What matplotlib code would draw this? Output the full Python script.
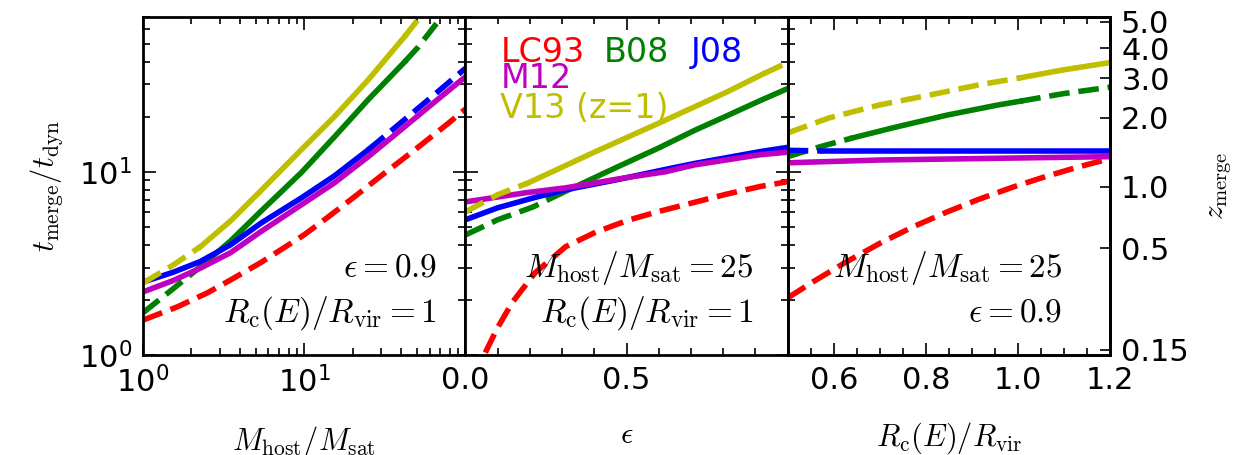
import numpy as np
import matplotlib
matplotlib.use("Agg")
import matplotlib.pyplot as plt
from matplotlib.ticker import MultipleLocator, NullLocator, NullFormatter

plt.rcParams['mathtext.fontset'] = 'cm'
plt.rcParams['font.family'] = ['DejaVu Sans']

# ---- data ----
# panel 1: t_merge/t_dyn vs Mhost/Msat (eps=0.9, Rc/Rvir=1)
mr_lc93 = [1, 1.63, 2.5, 3.5, 5.4, 10, 14.1, 20.5, 31.6, 48.7, 79, 100]
t1_lc93 = [1.55, 1.83, 2.18, 2.57, 3.2, 4.53, 5.67, 7.3, 9.85, 13.2, 18.5, 22]
mr_b08 = [1, 1.54, 2.27, 3.5, 5.4, 9.6, 15.4, 25, 42, 51, 69]
t1_b08 = [1.70, 2.3, 3.03, 4.2, 6.1, 9.9, 15.5, 24.8, 39.8, 48, 67.6]
mr_j08 = [1, 1.54, 2.27, 3.5, 5.4, 9.6, 15.4, 25, 40, 65, 100]
t1_j08 = [2.5, 2.83, 3.24, 4.0, 5.25, 7.2, 9.5, 13.2, 18.6, 26.6, 36.7]
mr_m12 = [1, 1.54, 2.27, 3.5, 5.4, 9.6, 15.4, 25, 40, 65, 100]
t1_m12 = [2.21, 2.55, 2.98, 3.62, 4.72, 6.6, 8.7, 12.1, 17.0, 24.2, 33.0]
mr_v13 = [1, 1.54, 2.27, 3.5, 5.4, 9.6, 15.4, 25, 42, 51, 56]
t1_v13 = [2.47, 3.1, 3.9, 5.4, 7.9, 13.2, 20.0, 31.8, 54.7, 68, 76]

# panel 2: vs eccentricity (Mhost/Msat=25, Rc/Rvir=1)
ecc_lc93 = [0.062, 0.099, 0.146, 0.217, 0.311, 0.404, 0.506, 0.599, 0.71, 0.81, 0.915, 1.0]
t2_lc93 = [1.03, 1.40, 1.94, 2.82, 3.90, 4.68, 5.45, 6.07, 6.81, 7.55, 8.32, 8.83]
ecc_b08 = [0.0, 0.10, 0.21, 0.30, 0.47, 0.6, 0.71, 0.8, 0.915, 1.0]
t2_b08 = [4.52, 5.47, 6.43, 7.67, 10.6, 13.5, 16.8, 19.8, 24.5, 28.5]
ecc_j08 = [0.0, 0.10, 0.21, 0.31, 0.47, 0.62, 0.71, 0.915, 1.0]
t2_j08 = [5.47, 6.36, 7.2, 7.97, 9.05, 10.3, 11.1, 12.9, 13.6]
ecc_m12 = [0.0, 0.19, 0.31, 0.5, 0.62, 0.71, 0.915, 1.0]
t2_m12 = [6.85, 7.7, 8.17, 9.3, 10.0, 10.9, 12.4, 12.8]
ecc_v13 = [0.0, 0.10, 0.195, 0.31, 0.40, 0.605, 0.81, 0.925, 1.0]
t2_v13 = [6.04, 7.5, 8.7, 10.8, 12.8, 18.6, 27.2, 34.3, 39.5]

# panel 3: vs Rc(E)/Rvir (Mhost/Msat=25, eps=0.9)
rc_lc93 = [0.5, 0.555, 0.627, 0.70, 0.77, 0.846, 0.917, 0.99, 1.06, 1.135, 1.2]
t3_lc93 = [2.05, 2.51, 3.22, 4.07, 4.98, 6.04, 7.11, 8.27, 9.42, 10.7, 11.8]
rc_b08 = [0.5, 0.57, 0.64, 0.737, 0.846, 0.954, 1.005, 1.098, 1.2]
t3_b08 = [12.1, 13.7, 15.3, 17.6, 20.4, 23.1, 24.3, 26.7, 29.0]
rc_j08 = [0.5, 0.576, 0.8, 1.0, 1.2]
t3_j08 = [13.1, 13.0, 13.0, 13.0, 13.0]
rc_m12 = [0.5, 0.70, 1.0, 1.2]
t3_m12 = [11.2, 11.6, 11.9, 12.1]
rc_v13 = [0.5, 0.59, 0.70, 0.81, 0.917, 1.005, 1.098, 1.2]
t3_v13 = [16.3, 19.7, 23.2, 26.3, 29.9, 32.6, 36.0, 39.5]

# range where each model is drawn solid (dashed outside)
solid1 = {'LC93': None, 'B08': (2.27, 42), 'J08': (1, 25), 'M12': (1, 100), 'V13': (2.27, 42)}
solid2 = {'LC93': None, 'B08': (0.30, 1.0), 'J08': (0, 1.0), 'M12': (0, 1.0), 'V13': (0.195, 0.925)}
solid3 = {'LC93': None, 'B08': (0.64, 1.005), 'J08': (0.576, 1.2), 'M12': (0.5, 1.2), 'V13': (1.005, 1.2)}

# z_merge ticks on the right axis, placed at their t_merge/t_dyn values
z_labels = ['0.15', '0.5', '1.0', '2.0', '3.0', '4.0', '5.0']
z_tpos = [1.07, 3.83, 8.31, 19.7, 32.5, 47.4, 65.8]

colors = {'LC93': '#ff0000', 'B08': '#008000', 'J08': '#0000ff', 'M12': '#bf00bf', 'V13': '#bfbf00'}
order = ['LC93', 'B08', 'J08', 'M12', 'V13']


def draw(ax, x, y, rng, c):
    x = np.asarray(x, float)
    y = np.asarray(y, float)
    lw = 4
    if rng is None:
        ax.plot(x, y, '--', color=c, lw=lw)
        return
    lo, hi = rng
    m_lo = x <= lo + 1e-9
    m_in = (x >= lo - 1e-9) & (x <= hi + 1e-9)
    m_hi = x >= hi - 1e-9
    if m_lo.sum() > 1:
        ax.plot(x[m_lo], y[m_lo], '--', color=c, lw=lw)
    if m_hi.sum() > 1:
        ax.plot(x[m_hi], y[m_hi], '--', color=c, lw=lw)
    if m_in.sum() > 1:
        ax.plot(x[m_in], y[m_in], '-', color=c, lw=lw)


fig, axes = plt.subplots(1, 3, figsize=(12.41, 4.55), dpi=100, sharey=True)
fig.subplots_adjust(left=0.1152, right=0.8945, bottom=0.2198, top=0.9626, wspace=0)
ax1, ax2, ax3 = axes

data1 = {'LC93': (mr_lc93, t1_lc93), 'B08': (mr_b08, t1_b08), 'J08': (mr_j08, t1_j08),
         'M12': (mr_m12, t1_m12), 'V13': (mr_v13, t1_v13)}
data2 = {'LC93': (ecc_lc93, t2_lc93), 'B08': (ecc_b08, t2_b08), 'J08': (ecc_j08, t2_j08),
         'M12': (ecc_m12, t2_m12), 'V13': (ecc_v13, t2_v13)}
data3 = {'LC93': (rc_lc93, t3_lc93), 'B08': (rc_b08, t3_b08), 'J08': (rc_j08, t3_j08),
         'M12': (rc_m12, t3_m12), 'V13': (rc_v13, t3_v13)}

for ax, data, solid in [(ax1, data1, solid1), (ax2, data2, solid2), (ax3, data3, solid3)]:
    for k in order:
        draw(ax, data[k][0], data[k][1], solid[k], colors[k])

ax1.set_yscale('log')
ax1.set_ylim(1, 70)
ax1.set_xscale('log')
ax1.set_xlim(1, 100)
ax1.set_xticks([1, 10])
ax2.set_xlim(0, 1.0)
ax2.set_xticks([0.0, 0.5])
ax2.xaxis.set_minor_locator(MultipleLocator(0.1))
ax3.set_xlim(0.5, 1.2)
ax3.set_xticks([0.6, 0.8, 1.0, 1.2])
ax3.xaxis.set_minor_locator(MultipleLocator(0.05))

for ax in axes:
    for s in ax.spines.values():
        s.set_linewidth(2)
    ax.tick_params(which='both', direction='in', top=True, right=True, labelsize=22, width=1.2, pad=8)
    ax.tick_params(which='major', length=9)
    ax.tick_params(which='minor', length=5)
ax3.tick_params(which='both', right=False)
ax2.tick_params(labelleft=False)
ax3.tick_params(labelleft=False)

ax1.set_ylabel(r'$t_{\rm merge}/t_{\rm dyn}$', fontsize=22, labelpad=10)
ax1.set_xlabel(r'$M_{\rm host}/M_{\rm sat}$', fontsize=22, labelpad=18)
ax2.set_xlabel(r'$\epsilon$', fontsize=22, labelpad=18)
ax3.set_xlabel(r'$R_{\rm c}(E)/R_{\rm vir}$', fontsize=22, labelpad=18)

# right axis in redshift
axz = ax3.twinx()
axz.set_yscale('log')
axz.set_ylim(1, 70)
axz.set_yticks(z_tpos)
axz.set_yticklabels(z_labels)
axz.yaxis.set_minor_locator(NullLocator())
axz.yaxis.set_minor_formatter(NullFormatter())
axz.tick_params(direction='in', length=7, width=1.2, labelsize=22, pad=8)
for s in axz.spines.values():
    s.set_linewidth(2)
axz.set_ylabel(r'$z_{\rm merge}$', fontsize=21, labelpad=12)

# annotations
fs = 24
ax1.text(0.913, 0.231, r'$\epsilon=0.9$', transform=ax1.transAxes, ha='right', va='baseline', fontsize=fs)
ax1.text(0.913, 0.098, r'$R_{\rm c}(E)/R_{\rm vir}=1$', transform=ax1.transAxes, ha='right', va='baseline', fontsize=fs)
ax2.text(0.894, 0.231, r'$M_{\rm host}/M_{\rm sat}=25$', transform=ax2.transAxes, ha='right', va='baseline', fontsize=fs)
ax2.text(0.894, 0.098, r'$R_{\rm c}(E)/R_{\rm vir}=1$', transform=ax2.transAxes, ha='right', va='baseline', fontsize=fs)
ax3.text(0.851, 0.231, r'$M_{\rm host}/M_{\rm sat}=25$', transform=ax3.transAxes, ha='right', va='baseline', fontsize=fs)
ax3.text(0.851, 0.098, r'$\epsilon=0.9$', transform=ax3.transAxes, ha='right', va='baseline', fontsize=fs)

# model key
lfs = 24
ax2.text(0.109, 0.867, 'LC93', color=colors['LC93'], transform=ax2.transAxes, fontsize=lfs, va='baseline')
ax2.text(0.429, 0.867, 'B08', color=colors['B08'], transform=ax2.transAxes, fontsize=lfs, va='baseline')
ax2.text(0.699, 0.867, 'J08', color=colors['J08'], transform=ax2.transAxes, fontsize=lfs, va='baseline')
ax2.text(0.109, 0.790, 'M12', color=colors['M12'], transform=ax2.transAxes, fontsize=lfs, va='baseline')
ax2.text(0.109, 0.701, 'V13 (z=1)', color=colors['V13'], transform=ax2.transAxes, fontsize=lfs, va='baseline')

plt.savefig('out.png', dpi=100)
